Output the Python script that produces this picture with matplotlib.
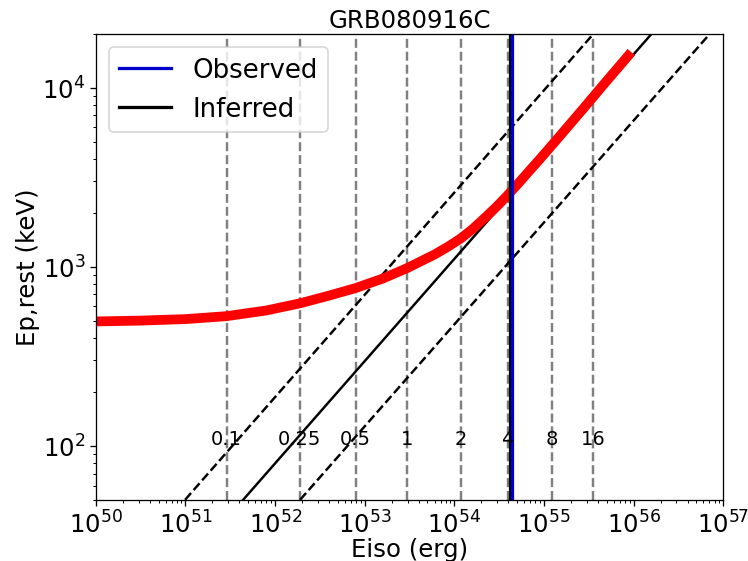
import numpy as np
import matplotlib
matplotlib.use("Agg")
import matplotlib.pyplot as plt

# curva roja: Eiso (erg) y Ep,rest (keV)
eiso_curve = [1e50, 3e50, 1e51, 2.9e51, 8e51, 1.9e52, 4e52, 7.9e52, 1.6e53, 3.0e53,
              6e53, 8.5e53, 1.18e54, 1.6e54, 2.2e54, 3e54, 3.9e54, 5e54, 7e54, 9e54,
              1.22e55, 1.6e55, 2e55, 2.7e55, 3.56e55, 4.6e55, 6e55, 7.5e55, 9.4e55]
ep_curve = [495, 500, 510, 530, 570, 625, 690, 760, 860, 985,
            1170, 1295, 1440, 1625, 1880, 2180, 2500, 2866, 3470, 3994,
            4760, 5575, 6350, 7570, 8910, 10380, 12130, 13810, 15780]

# redshifts y Eiso correspondiente (lineas verticales)
z_labels = ['0.1', '0.25', '0.5', '1', '2', '4', '8', '16']
eiso_z = [2.88e51, 1.89e52, 7.93e52, 2.99e53, 1.18e54, 3.93e54, 1.22e55, 3.56e55]

# relacion de Amati (extremos leidos) y su dispersion
amati_ep = [50, 2e4]
amati_e = [4.4e51, 1.59e56]
amati_e_up = [9.9e50, 3.57e55]
amati_e_low = [1.9e52, 7.1e56]

eiso_obs = 4.41e54
eiso_inf = 4.2e54

fig, ax = plt.subplots(figsize=(6.4, 4.8), dpi=117)

for e, lab in zip(eiso_z, z_labels):
    ax.axvline(e, color='gray', linestyle='--', linewidth=1.5)
    ax.text(e, 110, lab, ha='center', va='center', fontsize=12)

ax.plot(amati_e, amati_ep, color='black', linewidth=1.5)
ax.plot(amati_e_up, amati_ep, color='black', linestyle='--', linewidth=1.5)
ax.plot(amati_e_low, amati_ep, color='black', linestyle='--', linewidth=1.5)

ax.plot(eiso_curve, ep_curve, color='red', linewidth=6, solid_capstyle='butt',
        solid_joinstyle='round')

ax.axvline(eiso_inf, color='black', linewidth=2, label='Inferred')
ax.axvline(eiso_obs, color='#0000cc', linewidth=2, label='Observed')

ax.set_xscale('log')
ax.set_yscale('log')
ax.set_xlim(1e50, 1e57)
ax.set_ylim(50, 2e4)
ax.set_xticks([1e50, 1e51, 1e52, 1e53, 1e54, 1e55, 1e56, 1e57])
ax.tick_params(axis='both', which='major', labelsize=15, pad=3)

ax.set_title('GRB080916C', fontsize=15, pad=4)
ax.set_xlabel('Eiso (erg)', fontsize=15, labelpad=0)
ax.set_ylabel('Ep,rest (keV)', fontsize=15, labelpad=1)

h, l = ax.get_legend_handles_labels()
ax.legend([h[1], h[0]], [l[1], l[0]], loc='upper left', fontsize=16)

fig.subplots_adjust(left=0.128, right=0.966, top=0.939, bottom=0.109)
fig.savefig('out.png')
